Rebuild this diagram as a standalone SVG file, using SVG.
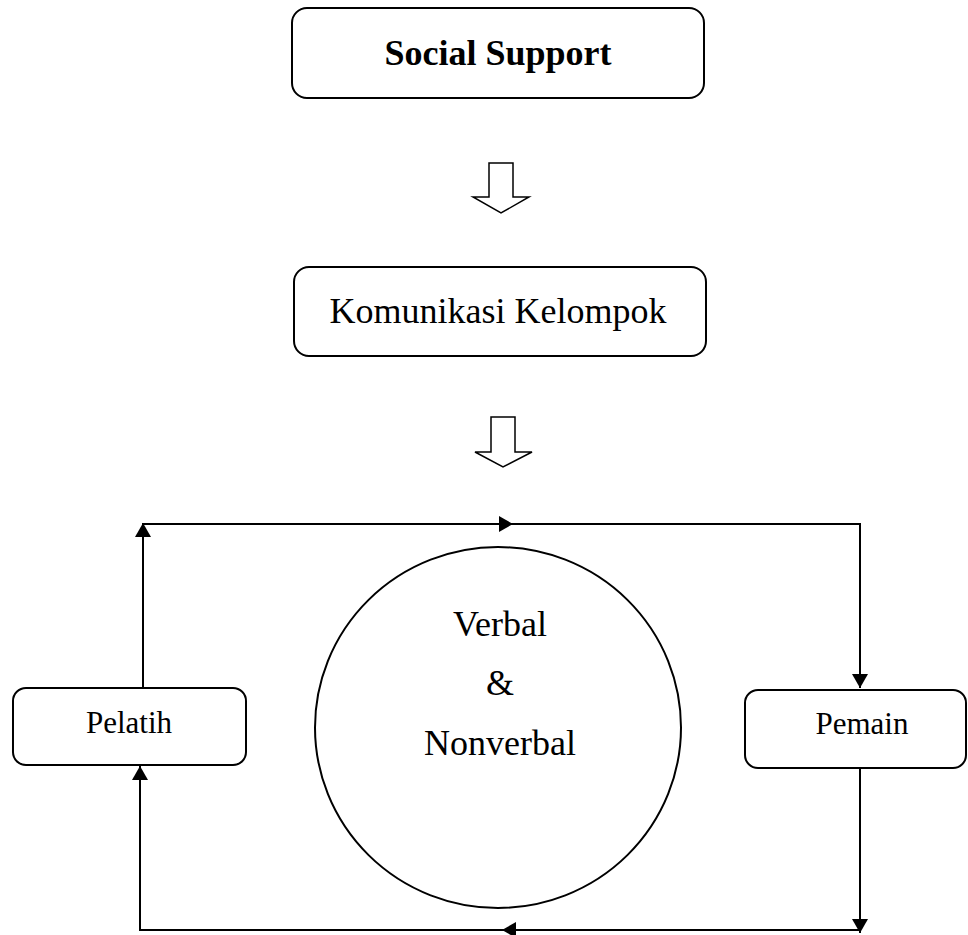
<svg xmlns="http://www.w3.org/2000/svg" width="968" height="935" viewBox="0 0 968 935">
<style>
.box{fill:#fff;stroke:#000;stroke-width:2}
.t{font-family:"Liberation Serif","Times New Roman",serif;fill:#000;text-anchor:middle}
.ln{fill:none;stroke:#000;stroke-width:2}
.blk{fill:#fff;stroke:#000;stroke-width:1.5;stroke-linejoin:miter}
</style>
<defs>
<marker id="ah" markerUnits="userSpaceOnUse" markerWidth="16" markerHeight="18" refX="14" refY="8" orient="auto" viewBox="0 0 16 16">
<path d="M0,0 L14,8 L0,16 Z" fill="#000"/>
</marker>
</defs>
<rect width="968" height="935" fill="#fff"/>
<g id="social-support">
<rect class="box" x="292" y="8" width="412" height="90" rx="15"/>
<text class="t" x="498" y="65" font-size="36" font-weight="bold">Social Support</text>
</g>
<g id="arrow1">
<polygon class="blk" points="489,163 513,163 513,197 529,197 501,213 473,197 489,197"/>
</g>
<g id="komunikasi-kelompok">
<rect class="box" x="294" y="267" width="412" height="89" rx="15"/>
<text class="t" x="498" y="323" font-size="36">Komunikasi Kelompok</text>
</g>
<g id="arrow2">
<polygon class="blk" points="491,417 515,417 515,452 532,452 503,467 475,452 491,452"/>
</g>
<g id="verbal-nonverbal">
<ellipse class="ln" cx="498" cy="727.5" rx="183" ry="180.5"/>
<text class="t" x="500" y="636" font-size="36">Verbal</text>
<text class="t" x="500" y="695" font-size="36">&amp;</text>
<text class="t" x="500" y="755" font-size="36">Nonverbal</text>
</g>
<g id="pelatih">
<rect class="box" x="13" y="688" width="233" height="77" rx="13"/>
<text class="t" x="129" y="733" font-size="31">Pelatih</text>
</g>
<g id="pemain">
<rect class="box" x="745" y="690" width="221" height="78" rx="13"/>
<text class="t" x="862" y="734" font-size="31">Pemain</text>
</g>
<g id="connectors">
<path class="ln" d="M143,688 L143,523" marker-end="url(#ah)"/>
<path class="ln" d="M142,524 L860,524 L860,688" marker-end="url(#ah)"/>
<path class="ln" d="M390,524 L513,524" stroke-width="2.5" marker-end="url(#ah)"/>
<path class="ln" d="M860,768 L860,933" marker-end="url(#ah)"/>
<path class="ln" d="M860,930 L140,930 L140,766" marker-end="url(#ah)"/>
<path class="ln" d="M630,930 L502,930" stroke-width="2.5" marker-end="url(#ah)"/>
</g>
</svg>
